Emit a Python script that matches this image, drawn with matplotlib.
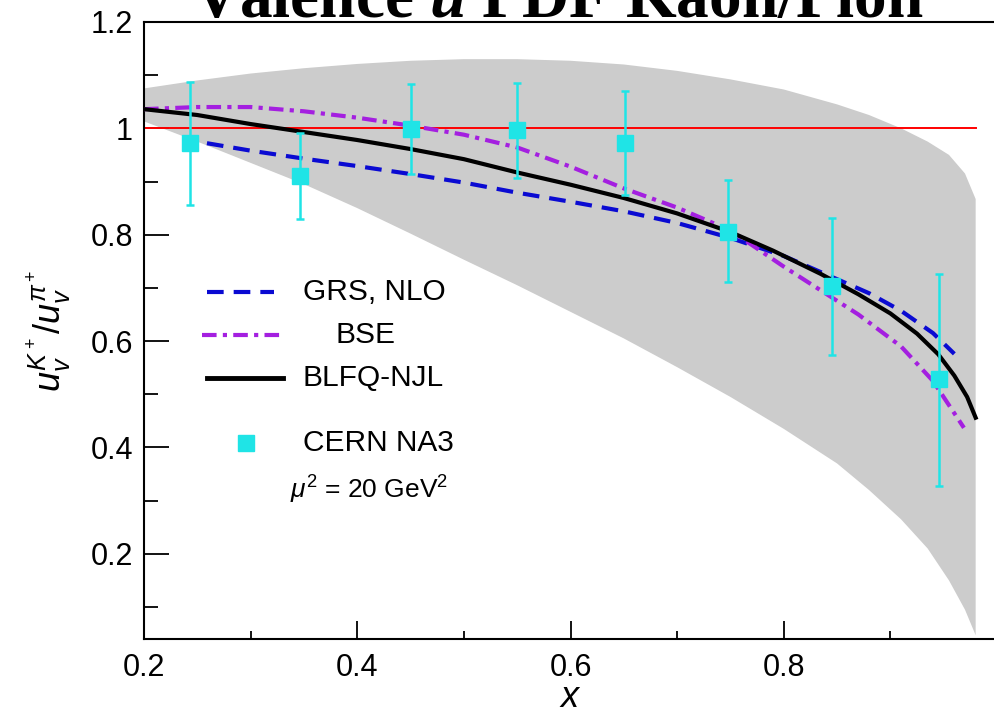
import numpy as np
import matplotlib
matplotlib.use("Agg")
from matplotlib import pyplot as plt
from matplotlib.ticker import FixedLocator

plt.rcParams['font.family'] = ['Liberation Sans', 'DejaVu Sans']
plt.rcParams['mathtext.fontset'] = 'custom'
plt.rcParams['mathtext.rm'] = 'Liberation Sans'
plt.rcParams['mathtext.it'] = 'Liberation Sans:italic'
plt.rcParams['mathtext.bf'] = 'Liberation Serif:bold'
plt.rcParams['mathtext.bfit'] = 'Liberation Serif:italic:bold'

# uncertainty band (upper and lower edge)
band_up_x = [0.2, 0.25, 0.3, 0.35, 0.4, 0.45, 0.5, 0.55, 0.6, 0.65, 0.7, 0.75, 0.8, 0.85, 0.88, 0.91, 0.935, 0.955, 0.97, 0.98]
band_up_y = [1.075, 1.09, 1.103, 1.113, 1.121, 1.127, 1.13, 1.13, 1.127, 1.12, 1.108, 1.092, 1.073, 1.045, 1.025, 1.0, 0.975, 0.95, 0.915, 0.867]
band_lo_x = [0.2, 0.25, 0.3, 0.35, 0.4, 0.45, 0.5, 0.55, 0.6, 0.65, 0.7, 0.75, 0.8, 0.85, 0.88, 0.91, 0.935, 0.955, 0.97, 0.98]
band_lo_y = [1.013, 0.975, 0.935, 0.895, 0.85, 0.802, 0.753, 0.705, 0.655, 0.605, 0.551, 0.495, 0.435, 0.37, 0.32, 0.265, 0.21, 0.15, 0.095, 0.047]

# BLFQ-NJL
blfq_x = [0.2, 0.25, 0.3, 0.35, 0.4, 0.45, 0.5, 0.55, 0.6, 0.65, 0.7, 0.75, 0.79, 0.835, 0.87, 0.9, 0.925, 0.945, 0.96, 0.972, 0.98]
blfq_y = [1.036, 1.025, 1.008, 0.993, 0.978, 0.961, 0.942, 0.917, 0.894, 0.869, 0.84, 0.805, 0.77, 0.726, 0.688, 0.652, 0.614, 0.575, 0.535, 0.495, 0.456]

# GRS, NLO
grs_x = [0.259, 0.3, 0.35, 0.4, 0.45, 0.5, 0.55, 0.6, 0.65, 0.7, 0.75, 0.8, 0.847, 0.88, 0.91, 0.94, 0.96]
grs_y = [0.972, 0.958, 0.943, 0.929, 0.914, 0.898, 0.879, 0.862, 0.844, 0.822, 0.794, 0.76, 0.719, 0.69, 0.657, 0.615, 0.576]

# BSE
bse_x = [0.2, 0.25, 0.3, 0.35, 0.4, 0.45, 0.5, 0.55, 0.6, 0.65, 0.7, 0.75, 0.8, 0.835, 0.87, 0.91, 0.94, 0.969]
bse_y = [1.036, 1.04, 1.04, 1.032, 1.02, 1.005, 0.988, 0.964, 0.928, 0.887, 0.851, 0.808, 0.74, 0.695, 0.65, 0.59, 0.525, 0.437]

# CERN NA3 data
na3_x = [0.243, 0.346, 0.45, 0.55, 0.651, 0.748, 0.845, 0.946]
na3_y = [0.972, 0.910, 0.998, 0.996, 0.972, 0.805, 0.704, 0.529]
na3_hi = [1.088, 0.992, 1.083, 1.085, 1.071, 0.902, 0.831, 0.726]
na3_lo = [0.856, 0.829, 0.914, 0.906, 0.874, 0.711, 0.574, 0.328]

ref_x = [0.2, 0.98]
ref_y = [1.0, 1.0]

CYAN = '#1fe4e6'
BLUE = '#0a0ad2'
PURPLE = '#a41fe0'

fig = plt.figure(figsize=(9.94, 7.19), dpi=100)
ax = fig.add_axes([0.1449, 0.1113, 0.8581, 0.8582])

ax.fill(np.concatenate([band_up_x, band_lo_x[::-1]]),
        np.concatenate([band_up_y, band_lo_y[::-1]]),
        color='#cccccc', lw=0, zorder=1)

ax.plot(ref_x, ref_y, color='red', lw=1.4, zorder=2)
ax.plot(grs_x, grs_y, color=BLUE, lw=3, dashes=(4, 2.4), zorder=3)
ax.plot(bse_x, bse_y, color=PURPLE, lw=3, dashes=(3.5, 1.5, 1, 1.5), zorder=3)
ax.plot(blfq_x, blfq_y, color='black', lw=3, zorder=4)

yerr = [np.array(na3_y) - np.array(na3_lo), np.array(na3_hi) - np.array(na3_y)]
ax.errorbar(na3_x, na3_y, yerr=yerr, fmt='s', color=CYAN, ms=11.5,
            elinewidth=1.8, capsize=3, capthick=1.8, zorder=5)

ax.set_xlim(0.2, 1.0)
ax.set_ylim(0.04, 1.2)
ax.xaxis.set_major_locator(FixedLocator([0.2, 0.4, 0.6, 0.8]))
ax.xaxis.set_minor_locator(FixedLocator([0.3, 0.5, 0.7, 0.9]))
ax.yaxis.set_major_locator(FixedLocator([0.2, 0.4, 0.6, 0.8, 1.0, 1.2]))
ax.yaxis.set_minor_locator(FixedLocator([0.1, 0.3, 0.5, 0.7, 0.9, 1.1]))
ax.set_xticklabels(['0.2', '0.4', '0.6', '0.8'])
ax.set_yticklabels(['0.2', '0.4', '0.6', '0.8', '1', '1.2'])
ax.tick_params(axis='both', which='both', direction='in', labelsize=22, width=1.3, colors='black')
ax.tick_params(axis='x', which='major', length=13, pad=10)
ax.tick_params(axis='x', which='minor', length=6)
ax.tick_params(axis='y', which='major', length=18, pad=8)
ax.tick_params(axis='y', which='minor', length=10)
for s in ax.spines.values():
    s.set_linewidth(1.5)

ax.set_xlabel(r'$x$', fontsize=26, labelpad=-2)
ax.set_ylabel(r'$u_v^{K^+}/u_v^{\pi^+}$', fontsize=26, labelpad=12)

# legend drawn by hand, as in the figure
tr = ax.transAxes
ax.plot([0.074, 0.152], [0.562, 0.562], color=BLUE, lw=3, dashes=(4, 2.4), transform=tr)
ax.text(0.186, 0.562, 'GRS, NLO', fontsize=21.5, va='center', transform=tr)
ax.plot([0.068, 0.163], [0.493, 0.493], color=PURPLE, lw=3, dashes=(3.5, 1.5, 1, 1.5), transform=tr)
ax.text(0.225, 0.493, 'BSE', fontsize=21.5, va='center', transform=tr)
ax.plot([0.074, 0.163], [0.423, 0.423], color='black', lw=3.5, transform=tr)
ax.text(0.186, 0.423, 'BLFQ-NJL', fontsize=21.5, va='center', transform=tr)
ax.plot([0.12], [0.318], 's', color=CYAN, ms=11.5, transform=tr)
ax.text(0.186, 0.318, 'CERN NA3', fontsize=21.5, va='center', transform=tr)
ax.text(0.171, 0.241, r'$\mu^2$ = 20 GeV$^2$', fontsize=19, va='center', transform=tr)

fig.text(0.561, 0.976, r'Valence $\mathbfit{u}$ PDF Kaon/Pion', fontsize=47,
         family='Liberation Serif', weight='bold', ha='center', va='baseline')

fig.savefig('out.png', dpi=100)
